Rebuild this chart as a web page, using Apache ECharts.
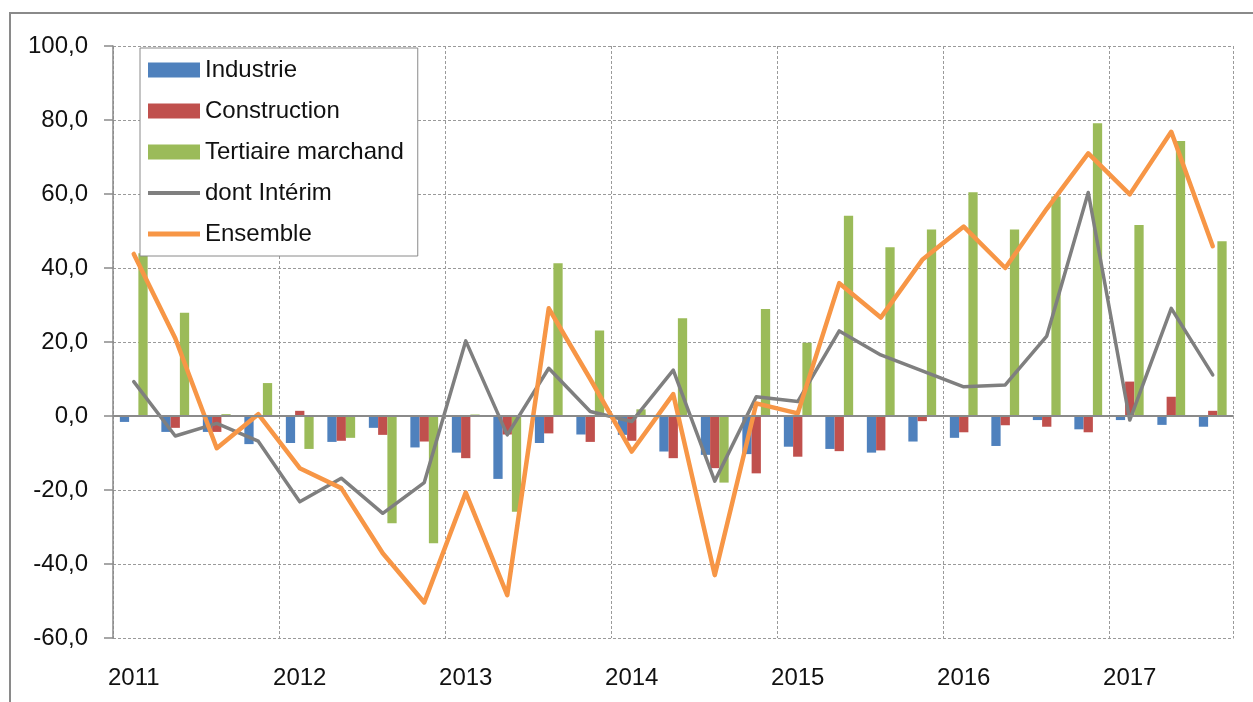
<!DOCTYPE html>
<html>
<head>
<meta charset="utf-8">
<script src="https://cdn.jsdelivr.net/npm/echarts@6/dist/echarts.min.js"></script>
<style>
html,body{margin:0;padding:0;background:#fff;}
#chart{width:1253px;height:702px;}
</style>
</head>
<body>
<div id="chart"></div>
<script>
const quarters = ['2011T1','2011T2','2011T3','2011T4','2012T1','2012T2','2012T3','2012T4',
  '2013T1','2013T2','2013T3','2013T4','2014T1','2014T2','2014T3','2014T4',
  '2015T1','2015T2','2015T3','2015T4','2016T1','2016T2','2016T3','2016T4',
  '2017T1','2017T2','2017T3'];
const yearLabels = ['2011','2012','2013','2014','2015','2016','2017'];
const yTicks = [-60,-40,-20,0,20,40,60,80,100];

const industrie = [-1.6,-4.3,-4.3,-7.6,-7.3,-7.0,-3.2,-8.5,-9.9,-17.0,-7.3,-5.0,-5.1,-9.6,-10.5,-10.3,
  -8.3,-8.9,-9.9,-6.9,-5.9,-8.1,-1.1,-3.6,-1.1,-2.4,-2.9];
const construction = [0,-3.2,-4.3,-0.3,1.4,-6.7,-5.1,-6.9,-11.4,-5.0,-4.7,-7.0,-6.7,-11.4,-14.1,-15.5,
  -11.0,-9.5,-9.3,-1.4,-4.4,-2.5,-2.9,-4.4,9.3,5.2,1.4];
const tertiaire = [44.0,27.9,0.5,8.9,-8.9,-5.9,-29.0,-34.4,0.4,-25.9,41.3,23.1,1.8,26.4,-18.0,28.9,
  19.8,54.1,45.6,50.4,60.5,50.4,59.3,79.1,51.6,74.3,47.2];
const interim = [9.3,-5.4,-2.0,-6.8,-23.2,-16.8,-26.3,-18.0,20.3,-5.1,12.9,1.2,-1.5,12.4,-17.6,5.2,
  3.9,23.0,16.5,12.2,7.9,8.4,21.6,60.4,-1.1,29.1,11.1];
const ensemble = [43.8,21.0,-8.7,0.5,-14.1,-19.5,-37.1,-50.4,-20.7,-48.4,29.1,10.0,-9.6,5.9,-43.0,3.4,
  0.7,35.9,26.6,42.2,51.2,40.0,56.0,71.0,59.9,76.8,45.9];

const FONT = 'Liberation Sans';
const chart = echarts.init(document.getElementById('chart'));
const gridDash = {color:'#9a9a9a', width:1, type:[3,2]};
const thinLine = 'path://M0,0 M52,15 M0,5.5 L52,5.5 L52,9.5 L0,9.5 Z';
const thickLine = 'path://M0,0 M52,15 M0,5 L52,5 L52,10 L0,10 Z';

chart.setOption({
  animation:false,
  textStyle:{fontFamily:FONT},
  graphic:[{
    type:'rect', shape:{x:10,y:13,width:1300,height:760},
    style:{fill:'none', stroke:'#8a8a8a', lineWidth:2}, silent:true, z:-10
  }],
  grid:{left:113, right:19.5, top:46, bottom:64, containLabel:false},
  legend:{
    orient:'vertical', left:140, top:48,
    padding:[10,14,10,8], itemGap:17, itemWidth:52, itemHeight:15,
    backgroundColor:'#fff', borderColor:'#8a8a8a', borderWidth:1,
    textStyle:{fontFamily:FONT, fontSize:24, color:'#111'},
    data:[{name:'Industrie', icon:'rect'},
      {name:'Construction', icon:'rect'},
      {name:'Tertiaire marchand', icon:'rect'},
      {name:'dont Intérim', icon:thinLine},
      {name:'Ensemble', icon:thickLine}]
  },
  xAxis:{
    type:'category', data:quarters, boundaryGap:true,
    axisLine:{show:false, onZero:false}, axisTick:{show:false},
    axisLabel:{interval:0, margin:28, fontFamily:FONT, fontSize:24, color:'#111',
      formatter:function(v, i){ return i % 4 === 0 ? yearLabels[i/4] : ''; }},
    splitLine:{show:true, interval:function(i){ return i % 4 === 0 && i < quarters.length; }, lineStyle:gridDash}
  },
  yAxis:{
    type:'value', min:yTicks[0], max:yTicks[yTicks.length-1], interval:20,
    axisLine:{show:true, lineStyle:{color:'#8a8a8a', width:1.5}},
    axisTick:{show:true, length:9, lineStyle:{color:'#8a8a8a', width:1.5}},
    axisLabel:{margin:25, fontFamily:FONT, fontSize:24, color:'#111',
      formatter:function(v){ return v.toFixed(1).replace('.', ','); }},
    splitLine:{show:true, lineStyle:gridDash}
  },
  series:[
    {name:'Industrie', type:'bar', data:industrie, barGap:'0%', barCategoryGap:'33%',
      itemStyle:{color:'#4F81BD'},
      markLine:{silent:true, symbol:'none', label:{show:false},
        lineStyle:{color:'#8a8a8a', type:'solid', width:2}, data:[{yAxis:0}]}},
    {name:'Construction', type:'bar', data:construction, barGap:'0%', barCategoryGap:'33%',
      itemStyle:{color:'#C0504D'}},
    {name:'Tertiaire marchand', type:'bar', data:tertiaire, barGap:'0%', barCategoryGap:'33%',
      itemStyle:{color:'#9BBB59'}},
    {name:'dont Intérim', type:'line', data:interim, symbol:'none', z:3,
      itemStyle:{color:'#7F7F7F'},
      lineStyle:{color:'#7F7F7F', width:3.5, cap:'round', join:'round'}},
    {name:'Ensemble', type:'line', data:ensemble, symbol:'none', z:4,
      itemStyle:{color:'#F79646'},
      lineStyle:{color:'#F79646', width:4.5, cap:'round', join:'round'}}
  ]
});
</script>
</body>
</html>
